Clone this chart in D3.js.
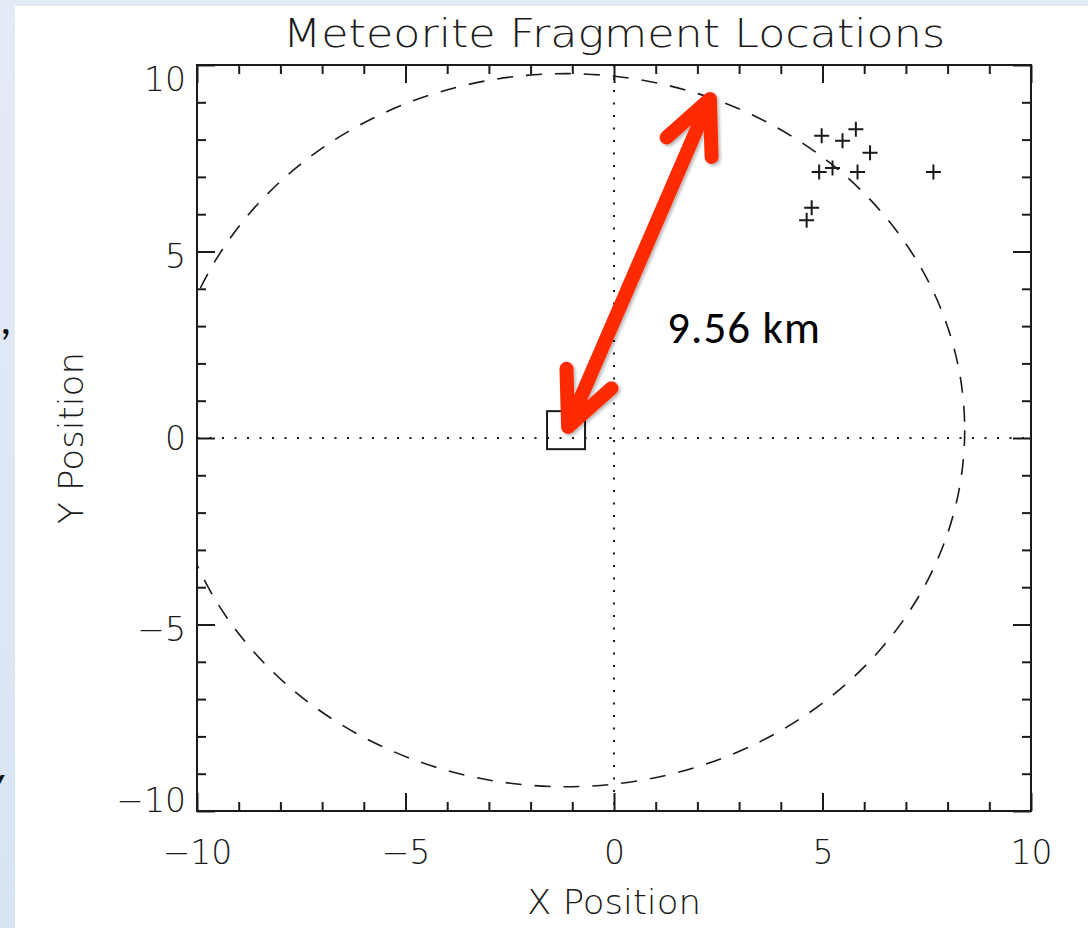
<!DOCTYPE html>
<html>
<head>
<meta charset="utf-8">
<script src="https://cdn.jsdelivr.net/npm/d3@7"></script>
<style>
  html, body { margin: 0; padding: 0; background: #ffffff; }
  svg { display: block; }
</style>
</head>
<body>
<svg id="chart" width="1088" height="928"></svg>
<script>
// ---------- data ----------
const fragmentX = [4.98, 5.48, 5.80, 6.14, 4.92, 5.24, 5.84, 7.66, 4.74, 4.62];
const fragmentY = [8.10, 7.97, 8.28, 7.65, 7.13, 7.24, 7.13, 7.13, 6.17, 5.84];
const siteX = [-1.15];
const siteY = [0.21];
const radiusKm = [9.56];
const arrowFrom = [-1.10, 0.30];
const arrowTo = [2.30, 9.09];
const majorTicks = [-10, -5, 0, 5, 10];
const minorTicks = [-9, -8, -7, -6, -4, -3, -2, -1, 1, 2, 3, 4, 6, 7, 8, 9];
const titleText = "Meteorite Fragment Locations";
const xTitle = "X Position";
const yTitle = "Y Position";
const annotationText = "9.56 km";

// ---------- setup ----------
const svg = d3.select("#chart");
const W = 1088, H = 928;
const plot = { left: 197, right: 1031, top: 65, bottom: 811 };
const ink = "#1a1a1a";
const idlFont = "'DejaVu Sans', sans-serif";

const x = d3.scaleLinear().domain([-10, 10]).range([plot.left, plot.right]);
const y = d3.scaleLinear().domain([-10, 10]).range([plot.bottom, plot.top]);

// slide background
const defs = svg.append("defs");
const bg = defs.append("linearGradient").attr("id", "bgGrad").attr("x1", 0).attr("y1", 0).attr("x2", 0).attr("y2", 1);
bg.append("stop").attr("offset", "0%").attr("stop-color", "#e3ebf6");
bg.append("stop").attr("offset", "100%").attr("stop-color", "#d9e4f3");
svg.append("rect").attr("width", W).attr("height", H).attr("fill", "url(#bgGrad)");

// slide text fragments at left edge
const slideFont = "Carlito, Lato, 'Open Sans', sans-serif";
svg.append("text").attr("x", 0).attr("y", 334).attr("font-family", slideFont)
  .attr("font-size", 46).attr("fill", "#111").text(",");
svg.append("text").attr("x", -17).attr("y", 797).attr("font-family", slideFont)
  .attr("font-size", 46).attr("font-style", "italic").attr("fill", "#111").text("y");

// white panel
svg.append("rect").attr("x", 15).attr("y", 6).attr("width", W - 15).attr("height", H - 6).attr("fill", "#ffffff");

const shadow = defs.append("filter").attr("id", "shadow").attr("x", "-20%").attr("y", "-20%").attr("width", "140%").attr("height", "140%");
shadow.append("feDropShadow").attr("dx", 2).attr("dy", 2).attr("stdDeviation", 1.8)
  .attr("flood-color", "#000").attr("flood-opacity", 0.28);

defs.append("clipPath").attr("id", "plotClip").append("rect")
  .attr("x", plot.left).attr("y", plot.top)
  .attr("width", plot.right - plot.left).attr("height", plot.bottom - plot.top);

const g = svg.append("g");

// dotted zero lines
g.append("line").attr("x1", x(0)).attr("x2", x(0)).attr("y1", plot.top).attr("y2", plot.bottom)
  .attr("stroke", ink).attr("stroke-width", 2).attr("stroke-dasharray", "2,10.5");
g.append("line").attr("x1", plot.left).attr("x2", plot.right).attr("y1", y(0)).attr("y2", y(0))
  .attr("stroke", ink).attr("stroke-width", 2).attr("stroke-dasharray", "2,10.5");

// dashed range circle (circle in data coordinates)
g.append("ellipse")
  .attr("clip-path", "url(#plotClip)")
  .attr("cx", x(siteX[0])).attr("cy", y(siteY[0]))
  .attr("rx", x(siteX[0] + radiusKm[0]) - x(siteX[0]))
  .attr("ry", y(siteY[0]) - y(siteY[0] + radiusKm[0]))
  .attr("fill", "none").attr("stroke", ink).attr("stroke-width", 1.6)
  .attr("stroke-dasharray", "16,13");

// axes
function drawFrame() {
  g.append("rect").attr("x", plot.left).attr("y", plot.top)
    .attr("width", plot.right - plot.left).attr("height", plot.bottom - plot.top)
    .attr("fill", "none").attr("stroke", ink).attr("stroke-width", 2);

  const major = 18, minor = 9;
  const xb = g.append("g").attr("transform", `translate(0,${plot.bottom})`)
    .call(d3.axisTop(x).tickValues(majorTicks).tickSize(major).tickFormat(""));
  const xbm = g.append("g").attr("transform", `translate(0,${plot.bottom})`)
    .call(d3.axisTop(x).tickValues(minorTicks).tickSize(minor).tickFormat(""));
  const xt = g.append("g").attr("transform", `translate(0,${plot.top})`)
    .call(d3.axisBottom(x).tickValues(majorTicks).tickSize(major).tickFormat(""));
  const xtm = g.append("g").attr("transform", `translate(0,${plot.top})`)
    .call(d3.axisBottom(x).tickValues(minorTicks).tickSize(minor).tickFormat(""));
  const yl = g.append("g").attr("transform", `translate(${plot.left},0)`)
    .call(d3.axisRight(y).tickValues(majorTicks).tickSize(major).tickFormat(""));
  const ylm = g.append("g").attr("transform", `translate(${plot.left},0)`)
    .call(d3.axisRight(y).tickValues(minorTicks).tickSize(minor).tickFormat(""));
  const yr = g.append("g").attr("transform", `translate(${plot.right},0)`)
    .call(d3.axisLeft(y).tickValues(majorTicks).tickSize(major).tickFormat(""));
  const yrm = g.append("g").attr("transform", `translate(${plot.right},0)`)
    .call(d3.axisLeft(y).tickValues(minorTicks).tickSize(minor).tickFormat(""));
  [xb, xbm, xt, xtm, yl, ylm, yr, yrm].forEach(a => {
    a.select(".domain").remove();
    a.selectAll("line").attr("stroke", ink).attr("stroke-width", 2);
  });

  const fmt = d => (d < 0 ? "\u2212" : "") + Math.abs(d);
  const xl = g.append("g").attr("transform", `translate(0,${plot.bottom + 41})`)
    .call(d3.axisBottom(x).tickValues(majorTicks).tickSize(0).tickPadding(0).tickFormat(fmt));
  xl.select(".domain").remove();
  xl.selectAll("text").attr("font-family", idlFont).attr("font-size", 33)
    .attr("font-weight", 200).attr("fill", ink).attr("dy", "0.35em").attr("y", 0);

  const ylab = g.append("g").attr("transform", `translate(${plot.left - 11},0)`)
    .call(d3.axisLeft(y).tickValues(majorTicks).tickSize(0).tickPadding(0).tickFormat(fmt));
  ylab.select(".domain").remove();
  ylab.selectAll("text").attr("font-family", idlFont).attr("font-size", 33)
    .attr("font-weight", 200).attr("fill", ink).attr("x", 0).attr("dy", "0.35em")
    .attr("y", d => d === 10 ? 14 : d === -10 ? -11 : d === 0 ? 0 : 4);
}
drawFrame();

// fragment markers (+)
const armLen = 7.5;
g.append("g").selectAll("path").data(fragmentX.map((v, i) => [v, fragmentY[i]]))
  .join("path")
  .attr("d", d => {
    const px = x(d[0]), py = y(d[1]);
    return `M${px - armLen},${py}H${px + armLen}M${px},${py - armLen}V${py + armLen}`;
  })
  .attr("stroke", ink).attr("stroke-width", 2).attr("fill", "none");

// site square
const half = 19;
g.append("g").selectAll("rect").data(siteX.map((v, i) => [v, siteY[i]]))
  .join("rect")
  .attr("x", d => x(d[0]) - half).attr("y", d => y(d[1]) - half)
  .attr("width", half * 2).attr("height", half * 2)
  .attr("fill", "none").attr("stroke", ink).attr("stroke-width", 2);

// titles
svg.append("text").attr("x", 614).attr("y", 47).attr("text-anchor", "middle")
  .attr("font-family", idlFont).attr("font-weight", 200).attr("font-size", 39)
  .attr("textLength", 662).attr("lengthAdjust", "spacingAndGlyphs")
  .attr("fill", ink).text(titleText);
svg.append("text").attr("x", 614).attr("y", 914).attr("text-anchor", "middle")
  .attr("font-family", idlFont).attr("font-weight", 200).attr("font-size", 33)
  .attr("textLength", 174).attr("lengthAdjust", "spacingAndGlyphs")
  .attr("fill", ink).text(xTitle);
svg.append("text").attr("transform", `translate(83,${y(0)}) rotate(-90)`).attr("text-anchor", "middle")
  .attr("font-family", idlFont).attr("font-weight", 200).attr("font-size", 33)
  .attr("textLength", 172).attr("lengthAdjust", "spacingAndGlyphs")
  .attr("fill", ink).text(yTitle);

// red double-headed arrow
const red = "#ff2a00";
const p0 = [x(arrowFrom[0]), y(arrowFrom[1])];
const p1 = [x(arrowTo[0]), y(arrowTo[1])];
function headPath(tip, tail) {
  const ang = Math.atan2(tail[1] - tip[1], tail[0] - tip[0]);
  const L = 58, spread = 25 * Math.PI / 180;
  const a = [tip[0] + L * Math.cos(ang - spread), tip[1] + L * Math.sin(ang - spread)];
  const b = [tip[0] + L * Math.cos(ang + spread), tip[1] + L * Math.sin(ang + spread)];
  return `M${a[0]},${a[1]}L${tip[0]},${tip[1]}L${b[0]},${b[1]}`;
}
const arrow = svg.append("g").attr("filter", "url(#shadow)");
arrow.append("path")
  .attr("d", `M${p0[0]},${p0[1]}L${p1[0]},${p1[1]}` + headPath(p1, p0) + headPath(p0, p1))
  .attr("fill", "none").attr("stroke", red).attr("stroke-width", 14)
  .attr("stroke-linecap", "round").attr("stroke-linejoin", "round");

svg.append("text").attr("x", 667).attr("y", 343)
  .attr("font-family", slideFont).attr("font-size", 45).attr("fill", "#000")
  .attr("textLength", 153).attr("lengthAdjust", "spacing")
  .text(annotationText);
</script>
</body>
</html>
